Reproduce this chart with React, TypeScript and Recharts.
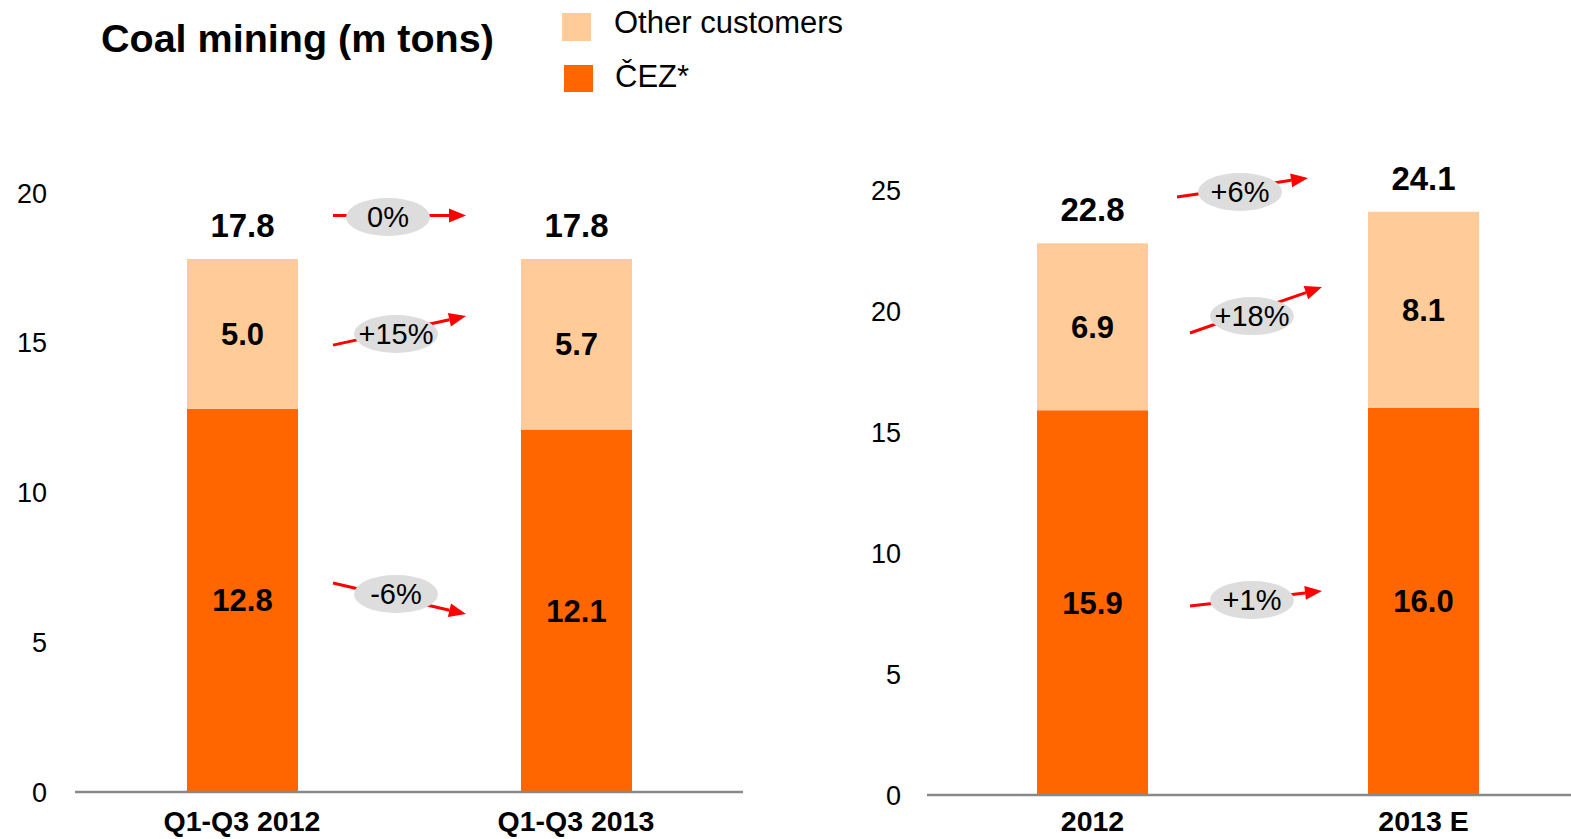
import { Bar, BarChart, LabelList, XAxis, YAxis } from 'recharts';

const FONT = "'Liberation Sans', Arial, Helvetica, sans-serif";
const DARK = '#FF6600';
const LIGHT = '#FFCC99';

// Q1-Q3 comparison
const periodCats = ['Q1-Q3 2012', 'Q1-Q3 2013'];
const periodCez = [12.8, 12.1];
const periodOther = [5.0, 5.7];
const periodTotal = [17.8, 17.8];
const periodTicks = [0, 5, 10, 15, 20];

// full year comparison
const yearCats = ['2012', '2013 E'];
const yearCez = [15.9, 16.0];
const yearOther = [6.9, 8.1];
const yearTotal = [22.8, 24.1];
const yearTicks = [0, 5, 10, 15, 20, 25];

// change bubbles: label, arrow start / end value, bubble value
const periodChanges = [
  { text: '0%', from: 19.25, to: 19.25, at: 19.2 },
  { text: '+15%', from: 14.92, to: 15.89, at: 15.29 },
  { text: '-6%', from: 6.98, to: 5.94, at: 6.61 },
];
const yearChanges = [
  { text: '+6%', from: 24.71, to: 25.5, at: 24.92 },
  { text: '+18%', from: 19.09, to: 20.99, at: 19.79 },
  { text: '+1%', from: 7.81, to: 8.43, at: 8.06 },
];

const periodData = periodCats.map((cat, i) => ({
  cat,
  cez: periodCez[i],
  other: periodOther[i],
  total: periodTotal[i],
}));
const yearData = yearCats.map((cat, i) => ({
  cat,
  cez: yearCez[i],
  other: yearOther[i],
  total: yearTotal[i],
}));

const fmt = (v: any) => Number(v).toFixed(1);

type ChartProps = {
  data: typeof periodData;
  ticks: number[];
  width: number;
  top: number;
  right: number;
  yWidth: number;
  xHeight: number;
  xMargin: number;
  yMargin: number;
};

const Stack = ({ data, ticks, width, top, right, yWidth, xHeight, xMargin, yMargin }: ChartProps) => (
  <BarChart
    width={width}
    height={839}
    data={data}
    margin={{ top, right, bottom: 0, left: 0 }}
    barCategoryGap={0}
  >
    <XAxis
      dataKey="cat"
      height={xHeight}
      interval={0}
      tickLine={false}
      tickSize={0}
      tickMargin={xMargin}
      axisLine={{ stroke: '#888888', strokeWidth: 2.5 }}
      tick={{ fill: '#000', fontSize: 28.5, fontWeight: 'bold', fontFamily: FONT }}
    />
    <YAxis
      width={yWidth}
      domain={[0, ticks[ticks.length - 1]]}
      ticks={ticks}
      interval={0}
      axisLine={false}
      tickLine={false}
      tickSize={0}
      tickMargin={yMargin}
      tick={{ fill: '#000', fontSize: 27, fontFamily: FONT }}
    />
    <Bar dataKey="cez" stackId="a" fill={DARK} barSize={111} isAnimationActive={false}>
      <LabelList
        dataKey="cez"
        position="center"
        formatter={fmt}
        fill="#000"
        fontSize={31}
        fontWeight="bold"
        fontFamily={FONT}
      />
    </Bar>
    <Bar dataKey="other" stackId="a" fill={LIGHT} barSize={111} isAnimationActive={false}>
      <LabelList
        dataKey="other"
        position="center"
        formatter={fmt}
        fill="#000"
        fontSize={31}
        fontWeight="bold"
        fontFamily={FONT}
      />
      <LabelList
        dataKey="total"
        position="top"
        offset={22}
        formatter={fmt}
        fill="#000"
        fontSize={33}
        fontWeight="bold"
        fontFamily={FONT}
      />
    </Bar>
  </BarChart>
);

type Change = { text: string; from: number; to: number; at: number };

const Bubble = ({
  c,
  toY,
  x1,
  x2,
  cx,
}: {
  c: Change;
  toY: (v: number) => number;
  x1: number;
  x2: number;
  cx: number;
}) => {
  const y1 = toY(c.from);
  const y2 = toY(c.to);
  const ang = Math.atan2(y2 - y1, x2 - x1);
  const head = 17;
  const half = 7;
  const bx = x2 - head * Math.cos(ang);
  const by = y2 - head * Math.sin(ang);
  const px = -Math.sin(ang) * half;
  const py = Math.cos(ang) * half;
  const cy = toY(c.at);
  return (
    <g>
      <line x1={x1} y1={y1} x2={bx} y2={by} stroke="#FF0000" strokeWidth={3} />
      <polygon
        points={`${x2},${y2} ${bx + px},${by + py} ${bx - px},${by - py}`}
        fill="#FF0000"
      />
      <ellipse cx={cx} cy={cy} rx={42} ry={19} fill="#DDDDDD" />
      <text
        x={cx}
        y={cy + 10}
        textAnchor="middle"
        fontSize={29}
        fontFamily={FONT}
        fill="#000"
      >
        {c.text}
      </text>
    </g>
  );
};

// plot geometry shared with the charts above
const leftY = (v: number) => 193 + ((20 - v) / 20) * 599;
const rightY = (v: number) => 190 + ((25 - v) / 25) * 605;

export default function App() {
  return (
    <div
      style={{
        position: 'relative',
        width: 1571,
        height: 839,
        overflow: 'hidden',
        background: '#fff',
        fontFamily: FONT,
      }}
    >
      <style>{`body{margin:0;overflow:hidden}`}</style>
      <div style={{ position: 'absolute', left: -1, top: 0 }}>
        <Stack
          data={periodData}
          ticks={periodTicks}
          width={761}
          top={193}
          right={17}
          yWidth={76}
          xHeight={47}
          xMargin={19}
          yMargin={28}
        />
      </div>
      <div style={{ position: 'absolute', left: 802, top: 0 }}>
        <Stack
          data={yearData}
          ticks={yearTicks}
          width={787}
          top={190}
          right={0}
          yWidth={125}
          xHeight={44}
          xMargin={16}
          yMargin={26}
        />
      </div>
      <svg
        width={1571}
        height={839}
        style={{ position: 'absolute', left: 0, top: 0, pointerEvents: 'none' }}
      >
        <text x={101} y={52} fontSize={39.5} fontWeight="bold" fontFamily={FONT} fill="#000">
          Coal mining (m tons)
        </text>
        <rect x={562} y={13} width={29} height={28} fill={LIGHT} />
        <text x={614} y={33} fontSize={31} fontFamily={FONT} fill="#000">
          Other customers
        </text>
        <rect x={564} y={65} width={29} height={27} fill={DARK} />
        <text x={615} y={87} fontSize={31} fontFamily={FONT} fill="#000">
          ČEZ*
        </text>
        {periodChanges.map((c, i) => (
          <Bubble key={'p' + i} c={c} toY={leftY} x1={333} x2={466} cx={i === 0 ? 388 : 396} />
        ))}
        {yearChanges.map((c, i) => (
          <Bubble
            key={'y' + i}
            c={c}
            toY={rightY}
            x1={i === 0 ? 1177 : 1190}
            x2={i === 0 ? 1308 : 1322}
            cx={i === 0 ? 1240 : 1252}
          />
        ))}
      </svg>
    </div>
  );
}
